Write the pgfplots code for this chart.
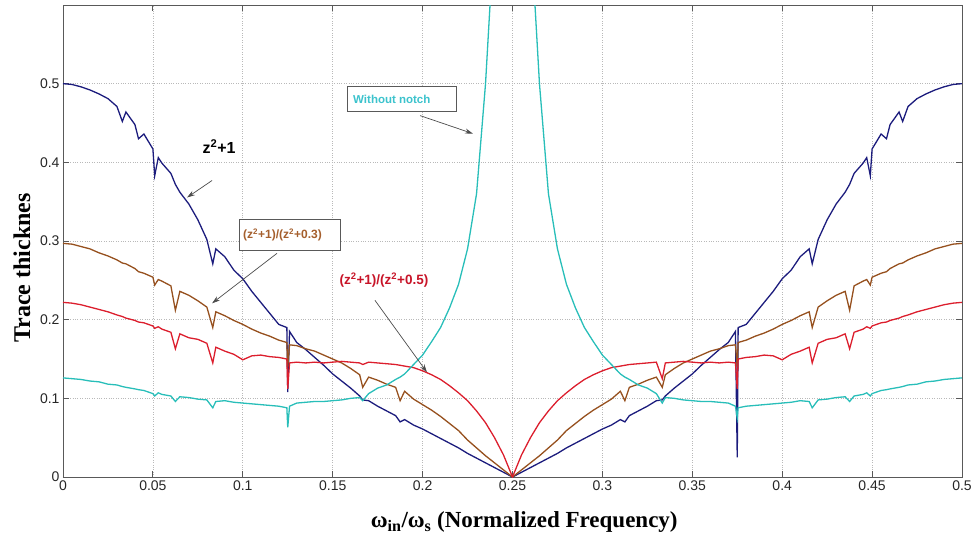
\documentclass[border=0pt]{standalone}
\usepackage{fontspec}
\setmainfont{Liberation Serif}
\setsansfont{Liberation Sans}
\usepackage{pgfplots}
\pgfplotsset{compat=1.18}
\usepackage{pgfplotstable}
\usetikzlibrary{arrows.meta}

\definecolor{cblue}{RGB}{28,28,125}
\definecolor{cbrown}{RGB}{150,80,30}
\definecolor{cred}{RGB}{220,30,45}
\definecolor{ccyan}{RGB}{40,190,185}
\definecolor{tbrown}{RGB}{165,95,45}
\definecolor{tcyan}{RGB}{60,195,205}
\definecolor{tred}{RGB}{200,20,40}

\pgfplotstableread{
x b br r c
0      0.500 0.297 0.222 0.126
0.005  0.499 0.296 0.221 0.125
0.01   0.496 0.293 0.219 0.124
0.015  0.492 0.290 0.216 0.122
0.02   0.487 0.285 0.213 0.121
0.025  0.481 0.281 0.210 0.118
0.03   0.471 0.276 0.206 0.117
0.033  0.452 0.272 0.204 0.115
0.035  0.464 0.271 0.202 0.114
0.04   0.448 0.265 0.199 0.112
0.042  0.430 0.261 0.197 0.111
0.045  0.436 0.259 0.196 0.110
0.05   0.417 0.254 0.192 0.106
0.051  0.383 0.244 0.189 0.103
0.053  0.406 0.251 0.191 0.107
0.055  0.399 0.249 0.188 0.105
0.06   0.386 0.243 0.184 0.103
0.0625 0.372 0.212 0.163 0.096
0.065  0.362 0.236 0.182 0.102
0.07   0.347 0.231 0.177 0.101
0.075  0.327 0.224 0.175 0.099
0.08   0.302 0.216 0.170 0.098
0.0833 0.271 0.190 0.145 0.088
0.085  0.290 0.210 0.165 0.096
0.09   0.280 0.205 0.160 0.097
0.095  0.263 0.199 0.156 0.095
0.1    0.252 0.194 0.149 0.094
0.105  0.236 0.188 0.154 0.093
0.11   0.222 0.183 0.155 0.092
0.115  0.208 0.179 0.153 0.091
0.12   0.194 0.174 0.152 0.090
0.1245 0.190 0.171 0.150 0.088
0.125  0.108 0.140 0.112 0.063
0.126  0.185 0.168 0.145 0.090
0.13   0.171 0.167 0.146 0.094
0.135  0.162 0.163 0.145 0.095
0.14   0.152 0.160 0.146 0.096
0.145  0.142 0.155 0.145 0.096
0.15   0.131 0.150 0.146 0.097
0.155  0.122 0.145 0.147 0.098
0.16   0.113 0.138 0.146 0.100
0.165  0.103 0.130 0.145 0.101
0.1667 0.098 0.114 0.143 0.097
0.17   0.097 0.127 0.146 0.106
0.175  0.090 0.123 0.145 0.113
0.18   0.084 0.118 0.144 0.117
0.185  0.078 0.114 0.143 0.124
0.1875 0.070 0.097 0.142 0.127
0.19   0.073 0.109 0.141 0.131
0.195  0.066 0.099 0.139 0.143
0.2    0.061 0.092 0.135 0.155
0.205  0.055 0.085 0.130 0.172
0.21   0.049 0.077 0.124 0.190
0.215  0.043 0.068 0.116 0.215
0.22   0.037 0.059 0.107 0.245
0.225  0.030 0.047 0.097 0.290
0.23   0.024 0.037 0.084 0.360
0.235  0.018 0.027 0.069 0.500
0.24   0.012 0.018 0.050 0.700
0.245  0.006 0.009 0.028 1.100
0.25   0.000 0.000 0.000 2.000
0.255  0.006 0.009 0.028 1.100
0.26   0.012 0.018 0.050 0.700
0.265  0.018 0.027 0.069 0.500
0.27   0.024 0.037 0.084 0.360
0.275  0.030 0.047 0.097 0.290
0.28   0.037 0.059 0.107 0.245
0.285  0.043 0.068 0.116 0.215
0.29   0.049 0.077 0.124 0.190
0.295  0.055 0.085 0.130 0.172
0.3    0.061 0.092 0.135 0.155
0.305  0.066 0.099 0.139 0.143
0.31   0.073 0.109 0.141 0.131
0.3125 0.070 0.097 0.142 0.127
0.315  0.078 0.114 0.143 0.124
0.32   0.084 0.118 0.144 0.117
0.325  0.090 0.123 0.145 0.113
0.33   0.097 0.127 0.146 0.106
0.3333 0.098 0.114 0.125 0.094
0.335  0.103 0.130 0.145 0.101
0.34   0.113 0.138 0.146 0.100
0.345  0.122 0.145 0.147 0.098
0.35   0.131 0.150 0.146 0.097
0.355  0.142 0.155 0.145 0.096
0.36   0.152 0.160 0.146 0.096
0.365  0.162 0.163 0.145 0.095
0.37   0.171 0.167 0.146 0.094
0.374  0.185 0.168 0.145 0.090
0.375  0.025 0.140 0.112 0.075
0.3755 0.190 0.171 0.150 0.088
0.38   0.194 0.174 0.152 0.090
0.385  0.208 0.179 0.153 0.091
0.39   0.222 0.183 0.155 0.092
0.395  0.236 0.188 0.154 0.093
0.4    0.252 0.194 0.149 0.094
0.405  0.263 0.199 0.156 0.095
0.41   0.280 0.205 0.160 0.097
0.415  0.290 0.210 0.165 0.096
0.4167 0.271 0.190 0.145 0.088
0.42   0.302 0.216 0.170 0.098
0.425  0.327 0.224 0.175 0.099
0.43   0.347 0.231 0.177 0.101
0.435  0.362 0.236 0.182 0.102
0.4375 0.372 0.212 0.163 0.096
0.44   0.386 0.243 0.184 0.103
0.445  0.399 0.249 0.188 0.105
0.447  0.406 0.251 0.191 0.107
0.449  0.383 0.244 0.189 0.103
0.45   0.417 0.254 0.192 0.106
0.455  0.436 0.259 0.196 0.110
0.458  0.430 0.261 0.197 0.111
0.46   0.448 0.265 0.199 0.112
0.465  0.464 0.271 0.202 0.114
0.467  0.452 0.272 0.204 0.115
0.47   0.471 0.276 0.206 0.117
0.475  0.481 0.281 0.210 0.118
0.48   0.487 0.285 0.213 0.121
0.485  0.492 0.290 0.216 0.122
0.49   0.496 0.293 0.219 0.124
0.495  0.499 0.296 0.221 0.125
0.5    0.500 0.297 0.222 0.126
}\data

\begin{document}
\begin{tikzpicture}
\path[use as bounding box] (-63pt,-65pt) rectangle (909pt,477pt);
\begin{axis}[
  scale only axis, width=899pt, height=472pt,
  xmin=0, xmax=0.5, ymin=0, ymax=0.6,
  xtick={0,0.05,0.1,0.15,0.2,0.25,0.3,0.35,0.4,0.45,0.5},
  xticklabels={0,0.05,0.1,0.15,0.2,0.25,0.3,0.35,0.4,0.45,0.5},
  ytick={0,0.1,0.2,0.3,0.4,0.5},
  yticklabels={0,0.1,0.2,0.3,0.4,0.5},
  grid=major,
  major grid style={dotted, gray!55, line width=0.7pt},
  axis line style={black!65, line width=0.9pt},
  tick style={black!65, line width=0.9pt},
  major tick length=6pt,
  ticklabel style={font=\sffamily\fontsize{14}{16}\selectfont, text=black!85},
  xlabel={ω\textsubscript{in}/ω\textsubscript{s} (Normalized Frequency)},
  ylabel={Trace thicknes},
  every axis x label/.style={at={(axis description cs:0.513,-0.095)}, anchor=center, font=\bfseries\fontsize{23}{26}\selectfont},
  every axis y label/.style={at={(axis description cs:-0.0456,0.443)}, anchor=center, rotate=90, font=\bfseries\fontsize{24}{26}\selectfont},
  every axis plot/.append style={line width=1.3pt},
]
\addplot[cblue] table[x=x, y=b] {\data};
\addplot[cbrown] table[x=x, y=br] {\data};
\addplot[cred] table[x=x, y=r] {\data};
\addplot[ccyan] table[x=x, y=c] {\data};

% annotations
\node[fill=white, inner sep=6pt, font=\sffamily\bfseries\fontsize{16}{18}\selectfont] at (axis cs:0.0868,0.420) {z\textsuperscript{2}+1};
\draw[black!70, line width=0.7pt, -{Stealth[length=8pt,width=5pt]}] (axis cs:0.0829,0.3769) -- (axis cs:0.069,0.3553);

\draw[black!65, line width=0.9pt, fill=white] (axis cs:0.0979,0.2881) rectangle (axis cs:0.1541,0.3274);
\node[anchor=west, inner sep=0pt, text=tbrown, font=\sffamily\bfseries\fontsize{12}{14}\selectfont] at (axis cs:0.1001,0.308) {(z\textsuperscript{2}+1)/(z\textsuperscript{2}+0.3)};
\draw[black!70, line width=0.7pt, -{Stealth[length=8pt,width=5pt]}] (axis cs:0.119,0.2843) -- (axis cs:0.0829,0.2208);

\node[fill=white, inner sep=3pt, text=tred, font=\sffamily\bfseries\fontsize{13.5}{15}\selectfont] at (axis cs:0.1785,0.250) {(z\textsuperscript{2}+1)/(z\textsuperscript{2}+0.5)};
\draw[black!70, line width=0.7pt, -{Stealth[length=8pt,width=5pt]}] (axis cs:0.1735,0.2246) -- (axis cs:0.2024,0.1332);

\draw[black!65, line width=0.9pt, fill=white] (axis cs:0.158,0.4645) rectangle (axis cs:0.2191,0.4962);
\node[anchor=west, inner sep=0pt, text=tcyan, font=\sffamily\bfseries\fontsize{11.5}{13}\selectfont] at (axis cs:0.1613,0.480) {Without notch};
\draw[black!70, line width=0.7pt, -{Stealth[length=8pt,width=5pt]}] (axis cs:0.1986,0.4594) -- (axis cs:0.228,0.4365);
\end{axis}
\end{tikzpicture}
\end{document}
